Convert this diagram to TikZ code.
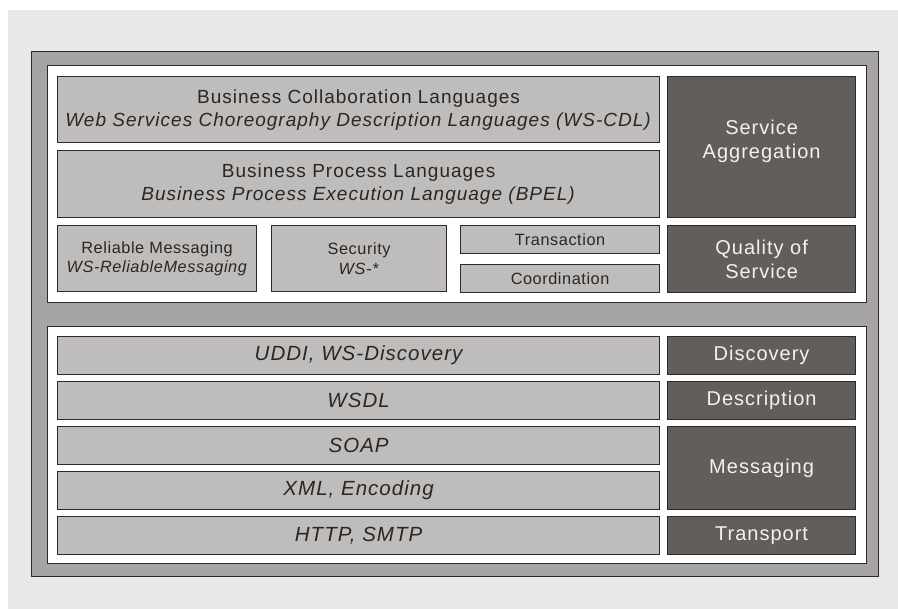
\documentclass[tikz,border=0pt]{standalone}
\usepackage{fontspec}
\setmainfont{Liberation Sans}
\newfontfamily\bigfam[LetterSpace=5.3]{Liberation Sans}
\newfontfamily\smallfam[LetterSpace=3.5]{Liberation Sans}
\newfontfamily\sidefam[LetterSpace=5]{Liberation Sans}
\definecolor{pagebg}{HTML}{E7E8E9}
\definecolor{framegray}{HTML}{A6A5A3}
\definecolor{boxlight}{HTML}{BFBDBB}
\definecolor{boxdark}{HTML}{625E5B}
\definecolor{edge}{HTML}{2E2926}
\definecolor{inkdark}{HTML}{2A2624}
\definecolor{inklight}{HTML}{F2F2F2}
\begin{document}
\begin{tikzpicture}[x=1pt,y=-1pt,
  lbox/.style={draw=edge, line width=1.2pt, fill=boxlight, text=inkdark,
    anchor=north west, inner sep=0pt, align=center},
  dbox/.style={draw=edge, line width=1.2pt, fill=boxdark, text=inklight,
    anchor=north west, inner sep=0pt, align=center},
  big/.style={font=\bigfam\fontsize{19}{23}\selectfont},
  small/.style={font=\smallfam\fontsize{16.3}{19.5}\selectfont},
  side/.style={font=\sidefam\fontsize{20}{24}\selectfont},
  row/.style={font=\sidefam\fontsize{20.5}{24}\selectfont\itshape},
  panel/.style={draw=edge, line width=0.9pt, fill=white}]
  \useasboundingbox (0,0) rectangle (898,609);
  % page and frame
  \fill[white] (0,0) rectangle (898,609);
  \fill[pagebg] (8,10) rectangle (898,609);
  \draw[edge, line width=0.9pt, fill=framegray] (31,51) rectangle (878,576);
  \draw[panel] (47,65) rectangle (866,302);
  \draw[panel] (47,326) rectangle (866,563);

  % upper panel: composition and quality of service
  \node[lbox, big, minimum width=602pt, minimum height=66pt] (bcl) at (57,76)
    {Business Collaboration Languages\\ \textit{Web Services Choreography Description Languages (WS-CDL)}};
  \node[lbox, big, minimum width=602pt, minimum height=67pt] (bpl) at (57,150)
    {Business Process Languages\\ \textit{Business Process Execution Language (BPEL)}};
  \node[lbox, small, minimum width=199pt, minimum height=66pt] (rm) at (57,225)
    {Reliable Messaging\\ \textit{WS-ReliableMessaging}};
  \node[lbox, small, minimum width=175pt, minimum height=66pt] (sec) at (271,225)
    {Security\\ \textit{WS-*}};
  \node[lbox, small, minimum width=199pt, minimum height=28pt] (tra) at (460,225)
    {Transaction};
  \node[lbox, small, minimum width=199pt, minimum height=28pt] (coo) at (460,264)
    {Coordination};
  \node[dbox, minimum width=188pt, minimum height=141pt] (agg) at (667,76) {};
  \node[side, text=inklight, align=center] (aggtext) at ([yshift=6pt]agg.center)
    {Service\\Aggregation};
  \node[dbox, side, minimum width=188pt, minimum height=67pt] (qos) at (667,225)
    {Quality of\\Service};

  % lower panel: protocol stack
  \node[lbox, row, minimum width=602pt, minimum height=38pt] (uddi) at (57,336) {UDDI, WS-Discovery};
  \node[lbox, row, minimum width=602pt, minimum height=38pt] (wsdl) at (57,381) {WSDL};
  \node[lbox, row, minimum width=602pt, minimum height=38pt] (soap) at (57,426) {SOAP};
  \node[lbox, row, minimum width=602pt, minimum height=38pt] (xml) at (57,471) {XML, Encoding};
  \node[lbox, row, minimum width=602pt, minimum height=38pt] (http) at (57,516) {HTTP, SMTP};
  \node[dbox, side, minimum width=188pt, minimum height=38pt] (disc) at (667,336) {Discovery};
  \node[dbox, side, minimum width=188pt, minimum height=38pt] (desc) at (667,381) {Description};
  \node[dbox, side, minimum width=188pt, minimum height=83pt] (msg) at (667,426) {Messaging};
  \node[dbox, side, minimum width=188pt, minimum height=38pt] (trp) at (667,516) {Transport};
\end{tikzpicture}
\end{document}
